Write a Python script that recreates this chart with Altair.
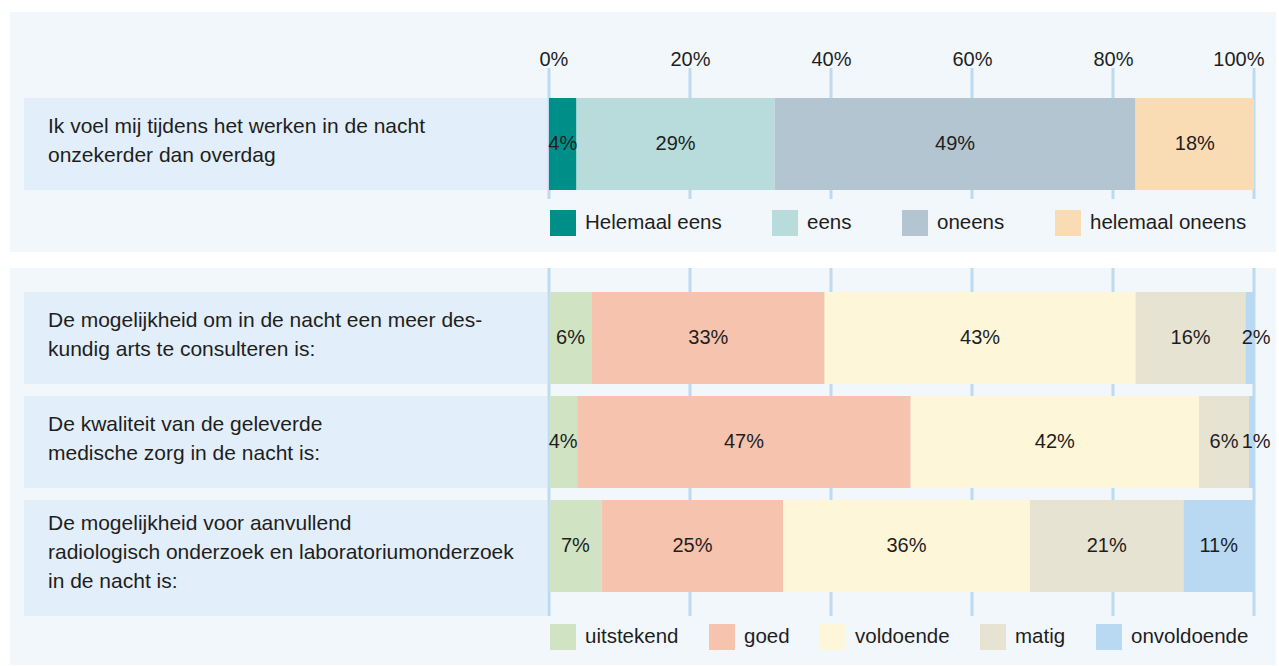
import altair as alt
import pandas as pd

FONT = "Liberation Sans"
TEXT_COLOR = "#1e1e1e"
PANEL_BG = "#f2f7fc"
BOX_BG = "#e2eef9"
GRID_COLOR = "#bcdaf2"

# ---- data -------------------------------------------------------------
tick_values = [0, 20, 40, 60, 80, 100]

top_questions = ["Ik voel mij tijdens het werken in de nacht onzekerder dan overdag"]
top_lines = [["Ik voel mij tijdens het werken in de nacht", "onzekerder dan overdag"]]
top_categories = ["Helemaal eens", "eens", "oneens", "helemaal oneens"]
top_colors = ["#008f88", "#b7dcdb", "#b4c5d2", "#fadcb4"]
top_values = [[3.9, 28.1, 51.2, 16.8]]
top_labels = [["4%", "29%", "49%", "18%"]]

bottom_questions = [
    "De mogelijkheid om in de nacht een meer deskundig arts te consulteren is:",
    "De kwaliteit van de geleverde medische zorg in de nacht is:",
    "De mogelijkheid voor aanvullend radiologisch onderzoek en laboratoriumonderzoek in de nacht is:",
]
bottom_lines = [
    ["De mogelijkheid om in de nacht een meer des-", "kundig arts te consulteren is:"],
    ["De kwaliteit van de geleverde", "medische zorg in de nacht is:"],
    ["De mogelijkheid voor aanvullend", "radiologisch onderzoek en laboratoriumonderzoek", "in de nacht is:"],
]
bottom_categories = ["uitstekend", "goed", "voldoende", "matig", "onvoldoende"]
bottom_colors = ["#d0e4c4", "#f6c3ae", "#fef6d9", "#e7e3d2", "#b9d9f2"]
bottom_values = [
    [6.1, 33.0, 44.1, 15.6, 1.2],
    [4.0, 47.3, 40.9, 7.1, 0.7],
    [7.5, 25.7, 35.0, 21.8, 10.0],
]
bottom_labels = [
    ["6%", "33%", "43%", "16%", "2%"],
    ["4%", "47%", "42%", "6%", "1%"],
    ["7%", "25%", "36%", "21%", "11%"],
]

LABEL_SIZE = 21
LEGEND_SIZE = 20.5
PCT_SIZE = 20


def panel(questions, lines, cats, colors, values, labels, height, padding_inner,
          bg_y, grid_y, legend_y, col_pad, show_axis):
    rows = []
    for qi, q in enumerate(questions):
        for ci, c in enumerate(cats):
            rows.append({"q": q, "cat": c, "order": ci,
                         "value": values[qi][ci], "label": labels[qi][ci]})
    df = pd.DataFrame(rows)
    qdf = pd.DataFrame({"q": questions, "lines": lines,
                        "n": [len(l) for l in lines]})

    xscale = alt.Scale(domain=[0, 100], nice=False, zero=False)
    yscale = alt.Scale(domain=questions, paddingInner=padding_inner, paddingOuter=0)
    Y = alt.Y("q:N", scale=yscale, sort=questions, axis=None)

    if show_axis:
        axis = alt.Axis(orient="top", values=tick_values, labelExpr="datum.value + '%'",
                        ticks=False, tickSize=0, domain=False, grid=False,
                        labelPadding=33, labelFontSize=20, labelFont=FONT,
                        labelColor=TEXT_COLOR, labelBaseline="alphabetic",
                        labelFlush=True, labelFlushOffset=10, zindex=1, title=None)
    else:
        axis = None

    bg = alt.Chart(pd.DataFrame({"a": [0]})).mark_rect(color=PANEL_BG).encode(
        x=alt.value(-539), x2=alt.value(727),
        y=alt.value(bg_y[0]), y2=alt.value(bg_y[1]))

    grid = alt.Chart(pd.DataFrame({"g": tick_values})).mark_rule(
        color=GRID_COLOR, strokeWidth=3).encode(
        x=alt.X("g:Q", scale=xscale, axis=axis),
        y=alt.value(grid_y[0]), y2=alt.value(grid_y[1]))

    boxes = alt.Chart(qdf).mark_rect(color=BOX_BG).encode(
        x=alt.value(-525), x2=alt.value(-2), y=Y)
    boxes_ext = alt.Chart(qdf).transform_filter("datum.n > 2").mark_rect(
        color=BOX_BG, yOffset=24, y2Offset=24).encode(
        x=alt.value(-525), x2=alt.value(-2), y=Y)

    qtext2 = alt.Chart(qdf).transform_filter("datum.n <= 2").mark_text(
        align="left", baseline="middle", fontSize=LABEL_SIZE, lineHeight=29, font=FONT,
        color=TEXT_COLOR, dy=-17).encode(x=alt.value(-501), y=Y, text=alt.Text("lines:N"))
    qtext3 = alt.Chart(qdf).transform_filter("datum.n > 2").mark_text(
        align="left", baseline="middle", fontSize=LABEL_SIZE, lineHeight=29, font=FONT,
        color=TEXT_COLOR, dy=-22).encode(x=alt.value(-501), y=Y, text=alt.Text("lines:N"))

    stacked = alt.Chart(df).transform_window(
        cum="sum(value)", groupby=["q"], sort=[alt.SortField("order")], frame=[None, 0]
    ).transform_calculate(
        start="datum.cum - datum.value",
        mid="datum.value < 3 ? datum.cum + 0.3 : datum.cum - datum.value / 2")

    bars = stacked.mark_rect().encode(
        x=alt.X("start:Q", scale=xscale, axis=axis),
        x2="cum:Q",
        y=Y,
        color=alt.Color("cat:N", scale=alt.Scale(domain=cats, range=colors),
                        legend=alt.Legend(orient="none", legendX=1, legendY=legend_y,
                                          direction="horizontal", columns=len(cats),
                                          title=None, symbolType="square",
                                          symbolSize=676, symbolStrokeWidth=0,
                                          symbolOpacity=1, labelFontSize=LEGEND_SIZE,
                                          labelFont=FONT, labelColor=TEXT_COLOR,
                                          labelOffset=9, labelLimit=400,
                                          columnPadding=col_pad, padding=0)),
    )

    pct = stacked.mark_text(fontSize=PCT_SIZE, font=FONT, color=TEXT_COLOR,
                            baseline="middle", align="center").encode(
        x=alt.X("mid:Q", scale=xscale, axis=axis), y=Y, text="label:N")

    return alt.layer(bg, grid, boxes, boxes_ext, qtext2, qtext3, bars, pct).properties(
        width=705, height=height)


top = panel(top_questions, top_lines, top_categories, top_colors, top_values, top_labels,
            height=92, padding_inner=0, bg_y=(-86, 154), grid_y=(-30, 101),
            legend_y=112, col_pad=50, show_axis=True)

bottom = panel(bottom_questions, bottom_lines, bottom_categories, bottom_colors,
               bottom_values, bottom_labels, height=300, padding_inner=12 / 104,
               bg_y=(-24, 373), grid_y=(-24, 324), legend_y=332, col_pad=30,
               show_axis=False)

chart = alt.vconcat(top, bottom, spacing=14).resolve_scale(
    x="independent", y="independent", color="independent"
).configure_view(stroke=None).properties(
    padding={"left": 10, "top": 12, "right": 0, "bottom": 0},
    background="white",
)

chart.save("out.html", embed_options={"renderer": "svg", "actions": False})
